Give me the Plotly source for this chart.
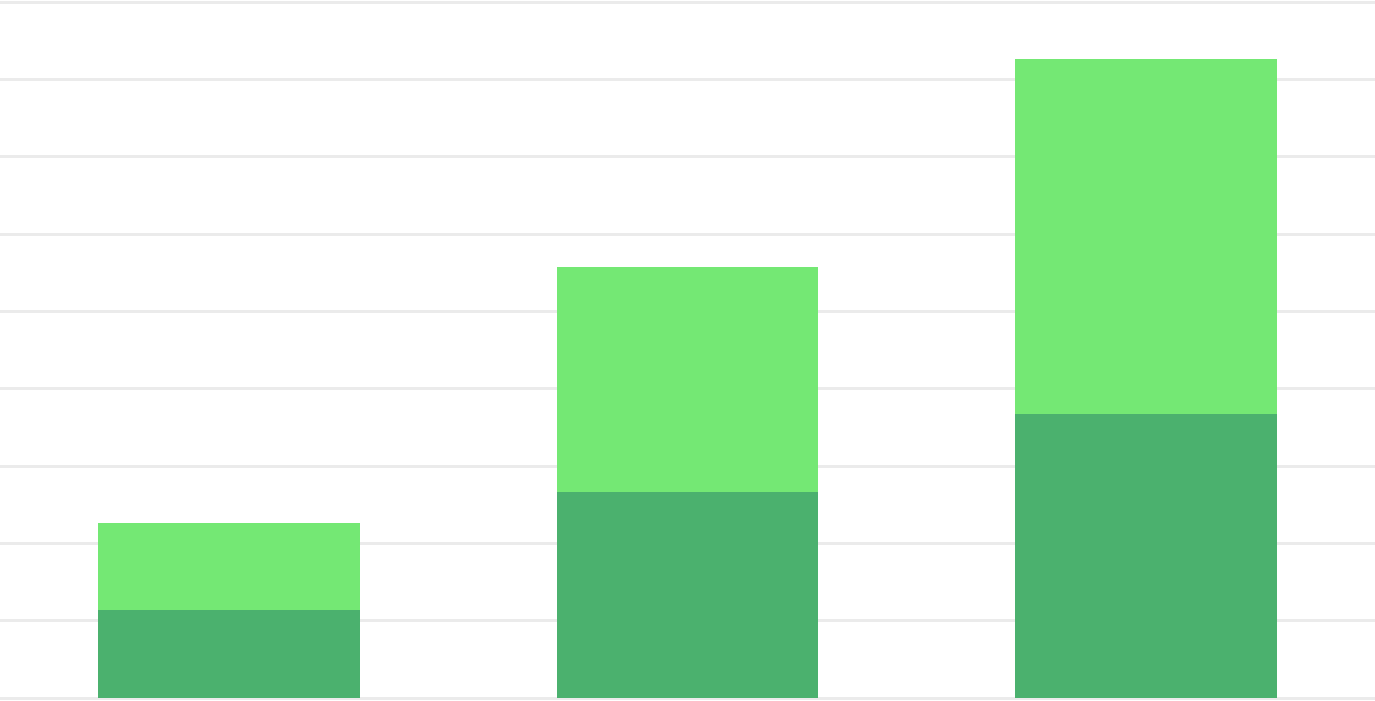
import plotly.graph_objects as go

# categories and stacked series values (grid step = 1)
categories = ['A', 'B', 'C']
base_values = [1.14, 2.66, 3.67]
top_values = [1.12, 2.92, 4.60]

fig = go.Figure()
fig.add_trace(go.Bar(x=categories, y=base_values, marker=dict(color='#4bb16e', line=dict(width=0))))
fig.add_trace(go.Bar(x=categories, y=top_values, marker=dict(color='#74e874', line=dict(width=0))))

fig.update_layout(
    barmode='stack',
    bargap=0.429,
    width=1375, height=701,
    margin=dict(l=0, r=0, t=0, b=3),
    plot_bgcolor='white', paper_bgcolor='white',
    showlegend=False,
)
fig.update_xaxes(showticklabels=False, showgrid=False, zeroline=False)
# range a touch above 9 so the top grid line is still drawn
fig.update_yaxes(range=[0, 9.03], dtick=1, showticklabels=False, gridcolor='#ebebeb',
                 gridwidth=3, zeroline=True, zerolinecolor='#ebebeb', zerolinewidth=3)

# drop the default body margin so the figure fills the window
fig.write_html("out.html", config={'displayModeBar': False},
               post_script="document.body.style.margin='0';document.body.style.overflow='hidden';")
